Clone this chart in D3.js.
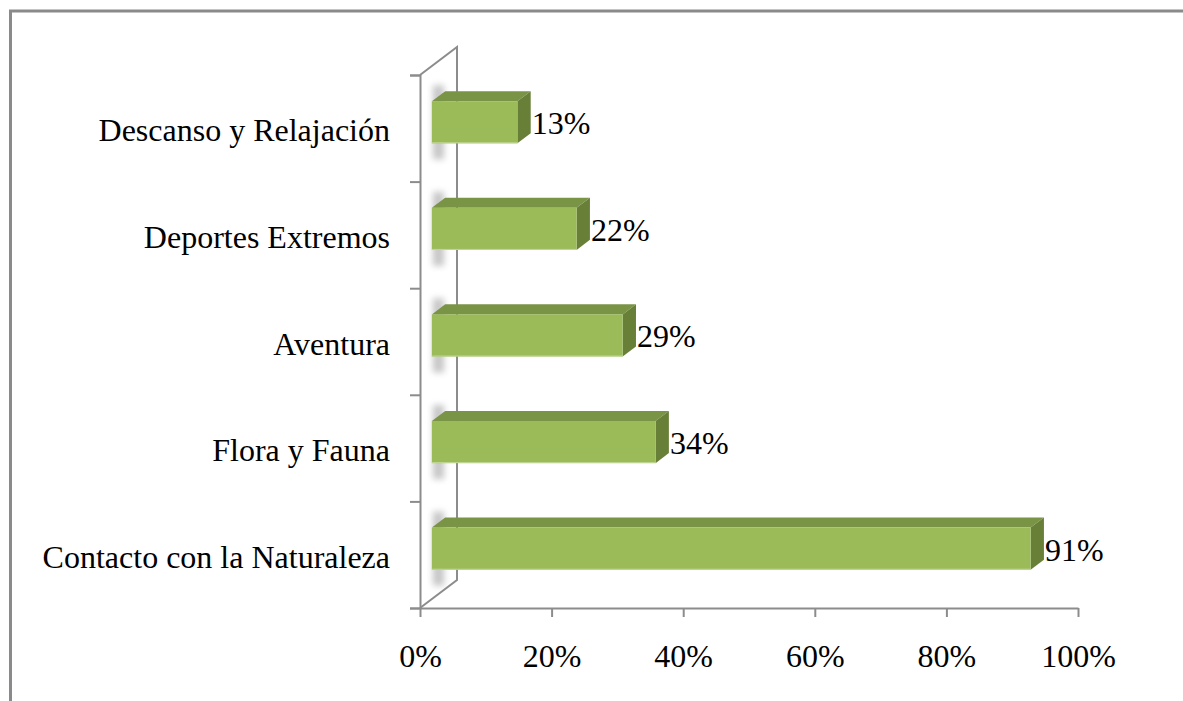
<!DOCTYPE html>
<html lang="es">
  <head>
    <meta charset="UTF-8" />
    <title>Motivos de visita</title>
    <script src="https://d3js.org/d3.v7.min.js"></script>
    <style>
      body { margin: 0; background: #fff; }
      svg { display: block; }
      text { font-family: "Liberation Serif", "Times New Roman", serif; fill: #000; }
    </style>
  </head>
  <body>
    <script>
      // data
      const categories = [
        "Descanso y Relajación",
        "Deportes Extremos",
        "Aventura",
        "Flora y Fauna",
        "Contacto con la Naturaleza",
      ];
      const values = [0.13, 0.22, 0.29, 0.34, 0.91];
      const xTicks = [0, 0.2, 0.4, 0.6, 0.8, 1];

      const width = 1183;
      const height = 701;
      const plot = { left: 420, right: 1078, top: 75, bottom: 608 };
      const depth = { dx: 37, dy: -28 }; // full depth of the 3d box
      const front = 0.32; // bars start at this fraction of the depth
      const back = 0.68;
      const axisColor = "#8c8c8c";
      const fontSize = 32;

      const svg = d3
        .select("body")
        .append("svg")
        .attr("width", width)
        .attr("height", height);

      const defs = svg.append("defs");
      defs
        .append("filter")
        .attr("id", "blur")
        .attr("x", "-50%")
        .attr("y", "-50%")
        .attr("width", "200%")
        .attr("height", "200%")
        .append("feGaussianBlur")
        .attr("stdDeviation", 3);

      // outer frame (only top and left edges are inside the picture)
      svg
        .append("rect")
        .attr("x", 10.5)
        .attr("y", 11)
        .attr("width", 1300)
        .attr("height", 800)
        .attr("fill", "none")
        .attr("stroke", "#8a8a8a")
        .attr("stroke-width", 3);

      const x = d3.scaleLinear().domain([0, 1]).range([plot.left, plot.right]);
      const y = d3
        .scaleBand()
        .domain(categories)
        .range([plot.top, plot.bottom])
        .paddingInner(0)
        .paddingOuter(0);
      const yTicks = d3
        .scaleLinear()
        .domain([0, categories.length])
        .range([plot.top, plot.bottom]);

      // back wall of the 3d box
      const wall = d3.path();
      wall.moveTo(plot.left, plot.top);
      wall.lineTo(plot.left + depth.dx, plot.top + depth.dy);
      wall.lineTo(plot.left + depth.dx, plot.bottom + depth.dy);
      wall.lineTo(plot.left, plot.bottom);
      svg
        .append("path")
        .attr("d", wall.toString())
        .attr("fill", "none")
        .attr("stroke", axisColor)
        .attr("stroke-width", 2);

      // left axis (ticks only, labels drawn separately)
      svg
        .append("g")
        .attr("transform", `translate(${plot.left},0)`)
        .call(
          d3
            .axisLeft(yTicks)
            .tickValues(d3.range(categories.length + 1))
            .tickSize(10)
            .tickFormat("")
        )
        .call((g) => g.select(".domain").attr("stroke", axisColor).attr("stroke-width", 2))
        .call((g) => g.selectAll(".tick line").attr("stroke", axisColor).attr("stroke-width", 2));

      // bottom axis
      svg
        .append("g")
        .attr("transform", `translate(0,${plot.bottom})`)
        .call(
          d3
            .axisBottom(x)
            .tickValues(xTicks)
            .tickSize(9)
            .tickSizeOuter(0)
            .tickFormat(d3.format(".0%"))
        )
        .call((g) => g.select(".domain").attr("stroke", axisColor).attr("stroke-width", 2))
        .call((g) => g.selectAll(".tick line").attr("stroke", axisColor).attr("stroke-width", 2))
        .call((g) =>
          g
            .selectAll(".tick text")
            .attr("y", 0)
            .attr("dy", 59)
            .attr("font-size", fontSize)
            .attr("font-family", "Liberation Serif")
            .attr("fill", "#000")
        );

      // category labels
      svg
        .append("g")
        .selectAll("text")
        .data(categories)
        .join("text")
        .attr("x", 390)
        .attr("y", (d) => y(d) + y.bandwidth() / 2 + 13)
        .attr("text-anchor", "end")
        .attr("font-size", fontSize)
        .text((d) => d);

      // bars
      const barH = y.bandwidth() * 0.395;
      const fx = depth.dx * front;
      const fy = depth.dy * front;
      const ddx = depth.dx * (back - front);
      const ddy = depth.dy * (back - front);
      const bars = svg
        .append("g")
        .selectAll("g")
        .data(categories.map((c, i) => ({ c, v: values[i] })))
        .join("g");

      const barTop = (d) => y(d.c) + y.bandwidth() * 0.33 + fy;
      const x0 = x(0) + fx;
      const x1 = (d) => x(d.v) + fx;

      // soft shadow on the wall
      bars
        .append("rect")
        .attr("x", x0 + 1)
        .attr("y", (d) => barTop(d) - 16)
        .attr("width", ddx - 2)
        .attr("height", barH + 32)
        .attr("fill", "#9a9a9a")
        .attr("opacity", 0.55)
        .attr("filter", "url(#blur)");

      // top face
      bars
        .append("path")
        .attr("d", (d) => {
          const p = d3.path();
          p.moveTo(x0, barTop(d));
          p.lineTo(x0 + ddx, barTop(d) + ddy);
          p.lineTo(x1(d) + ddx, barTop(d) + ddy);
          p.lineTo(x1(d), barTop(d));
          p.closePath();
          return p.toString();
        })
        .attr("fill", "#7a9446");

      // side face
      bars
        .append("path")
        .attr("d", (d) => {
          const p = d3.path();
          p.moveTo(x1(d), barTop(d));
          p.lineTo(x1(d) + ddx, barTop(d) + ddy);
          p.lineTo(x1(d) + ddx, barTop(d) + ddy + barH);
          p.lineTo(x1(d), barTop(d) + barH);
          p.closePath();
          return p.toString();
        })
        .attr("fill", "#687f38");

      // front face
      bars
        .append("rect")
        .attr("x", x0)
        .attr("y", barTop)
        .attr("width", (d) => x1(d) - x0)
        .attr("height", barH)
        .attr("fill", "#9bbb59");

      bars
        .append("line")
        .attr("x1", x0)
        .attr("x2", x1)
        .attr("y1", (d) => barTop(d) + barH - 0.5)
        .attr("y2", (d) => barTop(d) + barH - 0.5)
        .attr("stroke", "#c2d69b")
        .attr("stroke-width", 1);

      // value labels
      bars
        .append("text")
        .attr("x", (d) => x1(d) + ddx + 1)
        .attr("y", (d) => barTop(d) + barH / 2 + 12)
        .attr("font-size", fontSize)
        .text((d) => d3.format(".0%")(d.v));
    </script>
  </body>
</html>
